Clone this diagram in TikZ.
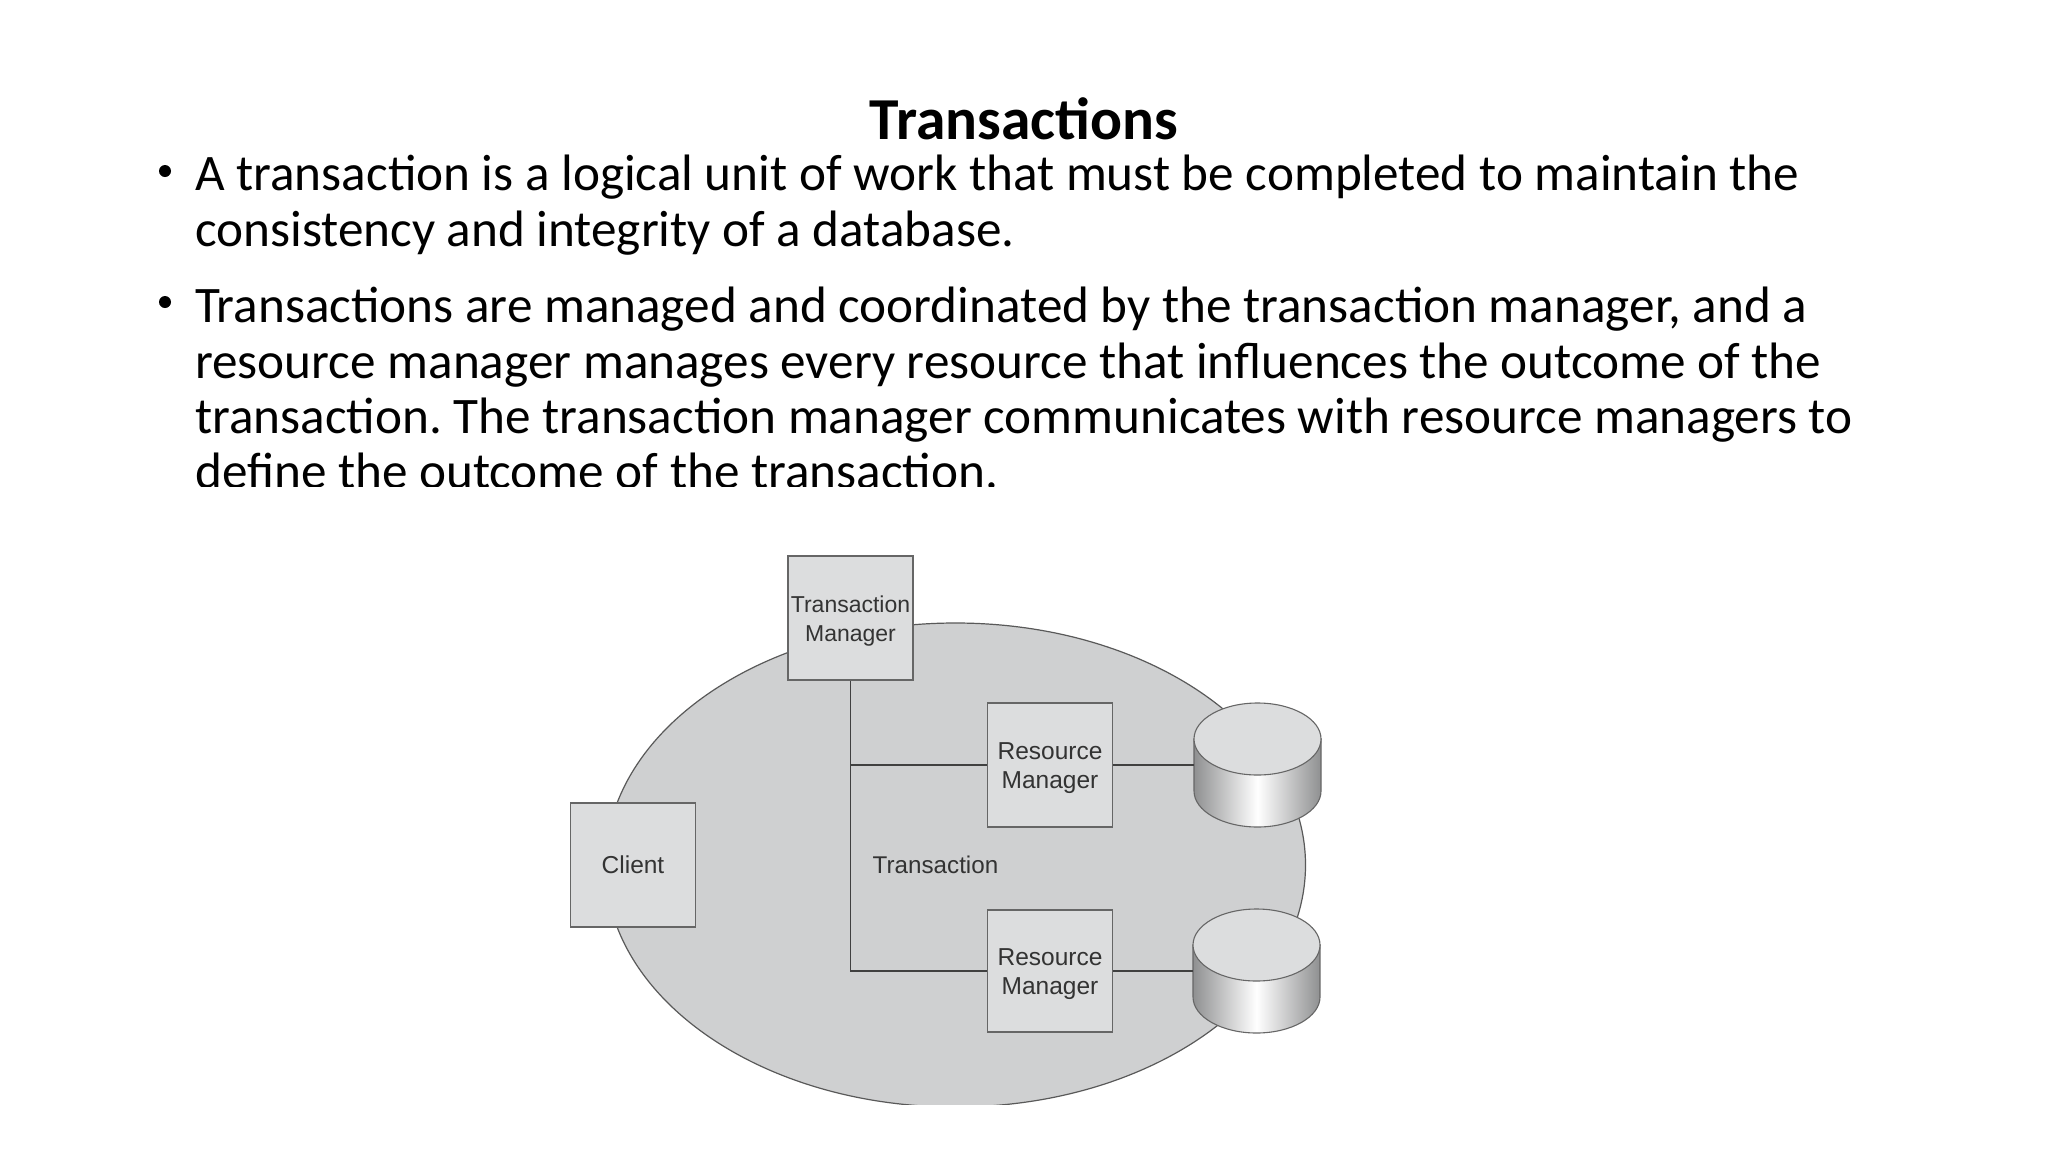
\documentclass[tikz,border=0pt]{standalone}
\usepackage{fontspec}
\setmainfont{Carlito}
\newfontfamily\figfont{Liberation Sans}
\begin{document}
\frenchspacing
\begin{tikzpicture}[x=1pt,y=-1pt,
  bodyline/.style={anchor=base west,inner sep=0pt,text=black,font=\fontsize{51.2}{55}\selectfont},
  dotmark/.style={circle,fill=black,inner sep=0pt,minimum size=12pt},
  boxn/.style={draw=black!60,line width=1.1pt,fill=boxgray,inner sep=0pt,minimum width=125pt,minimum height=124pt,align=center,text=black!80,font=\figfont\fontsize{24.5}{29}\selectfont},
  wire/.style={draw=black!75,line width=1.4pt},
  cyledge/.style={draw=black!60,line width=1.1pt}]
\definecolor{boxgray}{HTML}{DCDDDE}
\definecolor{blobgray}{HTML}{CFD0D1}
\definecolor{cylside}{HTML}{8F9091}
\useasboundingbox (0,0) rectangle (2048,1152);
\fill[white] (0,0) rectangle (2048,1152);
% slide text
\node[anchor=base,inner sep=0pt,font=\fontsize{59.5}{64}\selectfont\bfseries] (title) at (1024,139.5) {Transactions};
\node[dotmark] (b1) at (165,171) {};
\node[bodyline] (l1) at (195,190) {A transaction is a logical unit of work that must be completed to maintain the};
\node[bodyline] (l2) at (195,246) {consistency and integrity of a database.};
\node[dotmark] (b2) at (165,302) {};
\node[bodyline] (l3) at (195,322) {Transactions are managed and coordinated by the transaction manager, and a};
\node[bodyline] (l4) at (195,378) {resource manager manages every resource that influences the outcome of the};
\node[bodyline] (l5) at (195,433) {transaction. The transaction manager communicates with resource managers to};
\node[bodyline] (l6) at (195,488) {define the outcome of the transaction.};
% picture background cuts the last line
\fill[white] (0,487) rectangle (2048,1152);
% transaction ellipse, cut at the picture's lower edge
\begin{scope}
\clip (0,487) rectangle (2048,1104);
\draw[draw=black!65,line width=1.2pt,fill=blobgray] (955.5,865) ellipse [x radius=350,y radius=242];
\end{scope}
% boxes
\node[boxn,font=\figfont\fontsize{23}{29}\selectfont] (tm) at (850.5,618) {\rule{0pt}{22pt}Transaction\\Manager};
\node[boxn] (client) at (633,865) {Client};
\node[boxn] (rm1) at (1050,765) {\rule{0pt}{24pt}Resource\\Manager};
\node[boxn,minimum height=122pt] (rm2) at (1050,971) {\rule{0pt}{24pt}Resource\\Manager};
\node[anchor=center,inner sep=0pt,text=black!80,font=\figfont\fontsize{24.2}{29}\selectfont] (tx) at (935.5,865) {Transaction};
% cylinders
\coordinate (c1) at (1194,765);
\coordinate (c2) at (1193,971);
\draw[cyledge,left color=cylside,right color=cylside,middle color=white]
  (1194,739) -- (1194,791) arc[start angle=180,end angle=0,x radius=63.5,y radius=36] -- (1321,739) -- cycle;
\draw[cyledge,fill=boxgray] (1257.5,739) ellipse [x radius=63.5,y radius=36];
\draw[cyledge,left color=cylside,right color=cylside,middle color=white]
  (1193,945) -- (1193,997) arc[start angle=180,end angle=0,x radius=63.5,y radius=36] -- (1320,945) -- cycle;
\draw[cyledge,fill=boxgray] (1256.5,945) ellipse [x radius=63.5,y radius=36];
% connectors
\coordinate (j1) at (tm.south |- rm1.west);
\draw[wire] (tm.south) -- (tm.south |- rm2.west) -- (rm2.west);
\draw[wire] (j1) -- (rm1.west);
\draw[wire] (rm1.east) -- (c1);
\draw[wire] (rm2.east) -- (c2);
\end{tikzpicture}
\end{document}
